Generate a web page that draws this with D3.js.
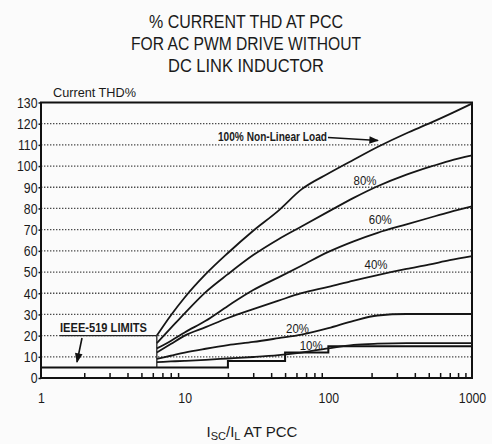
<!DOCTYPE html>
<html>
<head>
<meta charset="utf-8">
<script src="https://cdn.jsdelivr.net/npm/d3@7"></script>
<style>
  html, body { margin: 0; padding: 0; background: #fbfbfb; }
  svg { display: block; }
  text { font-family: "Liberation Sans", Arial, sans-serif; fill: #1a1a1a; }
</style>
</head>
<body>
<svg id="chart" width="492" height="444"></svg>
<script>
// Short-circuit ratio Isc/IL sampled along every curve
const ratio = [6.4, 8, 10, 14, 20, 30, 45, 65, 100, 150, 220, 350, 500, 700, 1000];

// Current THD% for each non-linear load share
const load100 = [20, 29.5, 38, 49, 59, 69.5, 79, 89, 96.5, 103, 109, 115.5, 120, 124.5, 129.5];
const load80  = [16.5, 23.5, 30.5, 40.5, 49, 58, 65.5, 71.5, 78.5, 85, 90.5, 96, 99.5, 102.5, 105];
const load60  = [14, 17.5, 21.5, 27, 34, 41.5, 47.5, 53, 59.5, 64.5, 68.5, 72.5, 75.5, 78.3, 81];
const load40  = [12, 16, 20, 24, 28.3, 32.5, 36.5, 40, 43, 46, 48.6, 51.5, 53.5, 55.6, 57.5];
const load20  = [9, 10.5, 12, 13.8, 15.5, 17, 18.8, 20.5, 23.5, 27, 29.5, 30.2, 30.2, 30.2, 30.2];
const load10  = [7.5, 7.8, 8.1, 8.6, 9.2, 9.9, 10.8, 12, 14, 15.6, 16.2, 16.5, 16.5, 16.5, 16.5];

// IEEE-519 current distortion limits (step after each breakpoint)
const ieeeRatio = [1, 20, 50, 100, 1000];
const ieeeLimit = [5, 8, 12, 15, 15];

// Axis ticks
const yTicks = [0, 10, 20, 30, 40, 50, 60, 70, 80, 90, 100, 110, 120, 130];
const xTicks = [1, 10, 100, 1000];
const xTickLabels = ["1", "10", "100", "1000"];

const titleLines = ["% CURRENT THD AT PCC", "FOR AC PWM DRIVE WITHOUT", "DC LINK INDUCTOR"];
const titleWidths = [194, 230, 156];

const svg = d3.select("#chart");
const x = d3.scaleLog().domain([1, 1000]).range([41, 472]);
const y = d3.scaleLinear().domain([0, 130]).range([378, 102.5]);

// Squeeze text horizontally to a condensed look
function narrow(sel, factor) {
  sel.each(function () {
    const w = this.getComputedTextLength();
    d3.select(this).attr("textLength", w * factor).attr("lengthAdjust", "spacingAndGlyphs");
  });
}
function fitWidth(sel, w) {
  sel.attr("textLength", w).attr("lengthAdjust", "spacingAndGlyphs");
}

// Title
svg.append("g").selectAll("text").data(titleLines).join("text")
  .attr("x", 246).attr("y", (d, i) => 28 + i * 22)
  .attr("text-anchor", "middle").attr("font-size", 19)
  .text(d => d)
  .each(function (d, i) { fitWidth(d3.select(this), titleWidths[i]); });

svg.append("text").attr("x", 53).attr("y", 97).attr("font-size", 13).text("Current THD%")
  .call(fitWidth, 83);

// Dotted grid lines
svg.append("g").selectAll("line").data(yTicks.filter(v => v > 0 && v < 130)).join("line")
  .attr("x1", x(1)).attr("x2", x(1000))
  .attr("y1", d => y(d)).attr("y2", d => y(d))
  .attr("stroke", "#4a4a4a").attr("stroke-width", 1.3)
  .attr("stroke-dasharray", "1.4,1.6");

// Y axis
const yAxis = svg.append("g").attr("transform", `translate(${x(1)},0)`)
  .call(d3.axisLeft(y).tickValues(yTicks).tickSize(2.5).tickPadding(1).tickFormat(d3.format("d")));
yAxis.select(".domain").remove();
yAxis.selectAll("line").attr("stroke", "#111").attr("stroke-width", 1.5);
yAxis.selectAll("text").attr("font-size", 15).attr("font-family", null).attr("fill", "#1a1a1a")
  .call(narrow, 0.82);

// X axis labels
const xAxis = svg.append("g").attr("transform", `translate(0,${y(0)})`)
  .call(d3.axisBottom(x).tickValues(xTicks).tickSize(0).tickPadding(14)
    .tickFormat((d, i) => xTickLabels[i]));
xAxis.select(".domain").remove();
xAxis.selectAll("text").attr("font-size", 15).attr("font-family", null).attr("fill", "#1a1a1a")
  .call(narrow, 0.82);

// Inward minor ticks
const minor = [];
[1, 10, 100].forEach(dec => { for (let k = 2; k <= 9; k++) minor.push(dec * k); });
const xMinor = svg.append("g").attr("transform", `translate(0,${y(0)})`)
  .call(d3.axisBottom(x).tickValues(minor).tickSize(-5).tickFormat(""));
xMinor.select(".domain").remove();
xMinor.selectAll("line").attr("stroke", "#111").attr("stroke-width", 1.5);

// Frame
svg.append("rect").attr("x", x(1)).attr("y", y(130))
  .attr("width", x(1000) - x(1)).attr("height", y(0) - y(130))
  .attr("fill", "none").attr("stroke", "#111").attr("stroke-width", 2);

// IEEE limit step line
const ieeeLine = d3.line().x(d => x(d[0])).y(d => y(d[1])).curve(d3.curveStepAfter);
svg.append("path").datum(ieeeRatio.map((r, i) => [r, ieeeLimit[i]]))
  .attr("d", ieeeLine).attr("fill", "none").attr("stroke", "#111").attr("stroke-width", 2);

// Load curves
const curveLine = d3.line().x(d => x(d[0])).y(d => y(d[1])).curve(d3.curveMonotoneX);
const series = [load100, load80, load60, load40, load20, load10];
svg.append("g").selectAll("path").data(series).join("path")
  .attr("d", s => curveLine(ratio.map((r, i) => [r, s[i]])))
  .attr("fill", "none").attr("stroke", "#161616").attr("stroke-width", 1.8);

// Common start edge of the curves
svg.append("line")
  .attr("x1", x(ratio[0])).attr("x2", x(ratio[0]))
  .attr("y1", y(load100[0])).attr("y2", y(ieeeLimit[0]))
  .attr("stroke", "#222").attr("stroke-width", 1.3);

// Curve labels
const labels = [
  { t: "80%", r: 180, v: 91 },
  { t: "60%", r: 230, v: 72.5 },
  { t: "40%", r: 215, v: 51.5 },
  { t: "20%", r: 61, v: 21 },
  { t: "10%", r: 76, v: 13.2 }
];
svg.append("g").selectAll("text").data(labels).join("text")
  .attr("x", d => x(d.r)).attr("y", d => y(d.v))
  .attr("text-anchor", "middle").attr("font-size", 13.5)
  .text(d => d.t)
  .call(narrow, 0.85);

// Arrow marker
svg.append("defs").append("marker").attr("id", "head")
  .attr("viewBox", "0 0 10 10").attr("refX", 9).attr("refY", 5)
  .attr("markerWidth", 7).attr("markerHeight", 6).attr("orient", "auto")
  .append("path").attr("d", "M0,1 L10,5 L0,9 z").attr("fill", "#111");

svg.append("text").attr("x", 218).attr("y", 141).attr("font-size", 12.5)
  .attr("font-weight", "bold").text("100% Non-Linear Load")
  .call(fitWidth, 109);
svg.append("line").attr("x1", 328).attr("y1", 137.5).attr("x2", 378).attr("y2", 140.5)
  .attr("stroke", "#111").attr("stroke-width", 1.6).attr("marker-end", "url(#head)");

// IEEE-519 annotation
svg.append("text").attr("x", 60).attr("y", 332).attr("font-size", 12.5)
  .attr("font-weight", "bold").text("IEEE-519 LIMITS")
  .call(fitWidth, 87);
svg.append("line").attr("x1", 60).attr("x2", x(ratio[0])).attr("y1", y(20)).attr("y2", y(20))
  .attr("stroke", "#222").attr("stroke-width", 1.4);
svg.append("line").attr("x1", 82).attr("y1", 338).attr("x2", 77).attr("y2", 362)
  .attr("stroke", "#111").attr("stroke-width", 1.6).attr("marker-end", "url(#head)");

// X axis title with subscripts
const xt = svg.append("text").attr("x", 252).attr("y", 437).attr("text-anchor", "middle").attr("font-size", 15);
xt.append("tspan").text("I");
xt.append("tspan").attr("font-size", 11).attr("dy", 3).text("SC");
xt.append("tspan").attr("dy", -3).text("/I");
xt.append("tspan").attr("font-size", 11).attr("dy", 3).text("L");
xt.append("tspan").attr("dy", -3).text(" AT PCC");
</script>
</body>
</html>
